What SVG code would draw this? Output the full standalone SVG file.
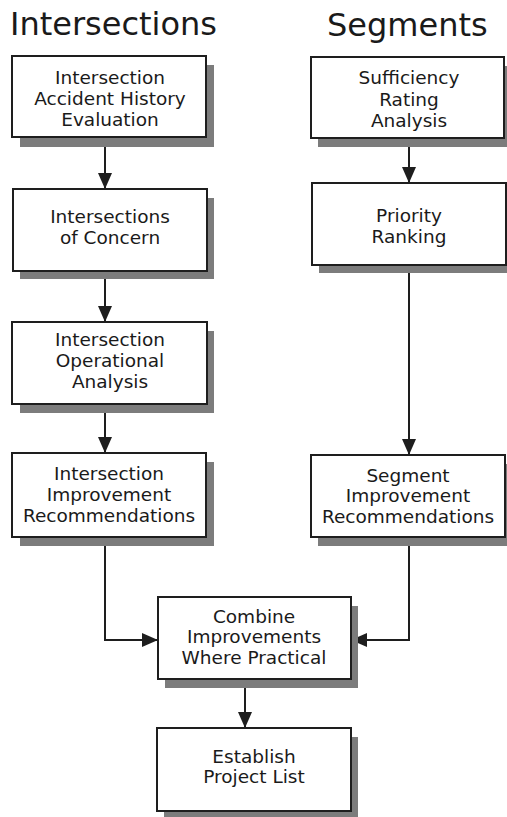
<svg xmlns="http://www.w3.org/2000/svg" width="507" height="817" viewBox="0 0 507 817">
  <style>
    .title { font-family: "DejaVu Sans", sans-serif; font-size: 32px; fill: #1a1a1a; }
    .label { font-family: "DejaVu Sans", sans-serif; font-size: 18.5px; fill: #1a1a1a; text-anchor: middle; }
    .box { fill: #ffffff; stroke: #1e1e1e; stroke-width: 2; }
    .shadow { fill: #7c7c7c; }
    .link { fill: none; stroke: #1e1e1e; stroke-width: 2; }
  </style>
  <defs>
    <marker id="arrow" markerUnits="userSpaceOnUse" markerWidth="16" markerHeight="14" refX="16" refY="7" orient="auto">
      <path d="M0,0 L16,7 L0,14 z" fill="#1e1e1e"/>
    </marker>
  </defs>

  <rect width="507" height="817" fill="#ffffff"/>

  <!-- column headings -->
  <text class="title" x="10" y="35">Intersections</text>
  <text class="title" x="327" y="36">Segments</text>

  <!-- connectors -->
  <g id="connectors">
    <line class="link" x1="105" y1="137" x2="105" y2="189" marker-end="url(#arrow)"/>
    <line class="link" x1="105" y1="271" x2="105" y2="322" marker-end="url(#arrow)"/>
    <line class="link" x1="105" y1="404" x2="105" y2="453" marker-end="url(#arrow)"/>
    <polyline class="link" points="105,537 105,640 158,640" marker-end="url(#arrow)"/>
    <line class="link" x1="409" y1="138" x2="409" y2="183" marker-end="url(#arrow)"/>
    <line class="link" x1="409" y1="265" x2="409" y2="455" marker-end="url(#arrow)"/>
    <polyline class="link" points="409,537 409,640 351,640" marker-end="url(#arrow)"/>
    <line class="link" x1="245" y1="679" x2="245" y2="728" marker-end="url(#arrow)"/>
  </g>

  <!-- intersection column -->
  <g id="accident-history">
    <rect class="shadow" x="20" y="65" width="194" height="82"/>
    <rect class="box" x="12" y="56" width="194" height="81"/>
    <text class="label" x="110" y="84">Intersection</text>
    <text class="label" x="110" y="105">Accident History</text>
    <text class="label" x="110" y="126">Evaluation</text>
  </g>

  <g id="intersections-of-concern">
    <rect class="shadow" x="20" y="198" width="194" height="81"/>
    <rect class="box" x="13" y="189" width="194" height="82"/>
    <text class="label" x="110" y="223">Intersections</text>
    <text class="label" x="110" y="244">of Concern</text>
  </g>

  <g id="operational-analysis">
    <rect class="shadow" x="20" y="331" width="194" height="82"/>
    <rect class="box" x="12" y="322" width="195" height="82"/>
    <text class="label" x="110" y="346">Intersection</text>
    <text class="label" x="110" y="367">Operational</text>
    <text class="label" x="110" y="388">Analysis</text>
  </g>

  <g id="intersection-improvements">
    <rect class="shadow" x="20" y="462" width="194" height="84"/>
    <rect class="box" x="12" y="453" width="194" height="84"/>
    <text class="label" x="109" y="480">Intersection</text>
    <text class="label" x="109" y="501">Improvement</text>
    <text class="label" x="109" y="522">Recommendations</text>
  </g>

  <!-- segment column -->
  <g id="sufficiency-rating">
    <rect class="shadow" x="318" y="66" width="194" height="81"/>
    <rect class="box" x="311" y="57" width="193" height="81"/>
    <text class="label" x="409" y="84">Sufficiency</text>
    <text class="label" x="409" y="106">Rating</text>
    <text class="label" x="409" y="127">Analysis</text>
  </g>

  <g id="priority-ranking">
    <rect class="shadow" x="319" y="192" width="194" height="81"/>
    <rect class="box" x="312" y="183" width="194" height="82"/>
    <text class="label" x="409" y="222">Priority</text>
    <text class="label" x="409" y="243">Ranking</text>
  </g>

  <g id="segment-improvements">
    <rect class="shadow" x="318" y="464" width="194" height="82"/>
    <rect class="box" x="311" y="455" width="194" height="82"/>
    <text class="label" x="408" y="482">Segment</text>
    <text class="label" x="408" y="502">Improvement</text>
    <text class="label" x="408" y="523">Recommendations</text>
  </g>

  <!-- merged outputs -->
  <g id="combine-improvements">
    <rect class="shadow" x="165" y="606" width="193" height="82"/>
    <rect class="box" x="158" y="597" width="193" height="82"/>
    <text class="label" x="254" y="623">Combine</text>
    <text class="label" x="254" y="643">Improvements</text>
    <text class="label" x="254" y="664">Where Practical</text>
  </g>

  <g id="project-list">
    <rect class="shadow" x="164" y="737" width="194" height="84"/>
    <rect class="box" x="157" y="728" width="194" height="83"/>
    <text class="label" x="254" y="763">Establish</text>
    <text class="label" x="254" y="783">Project List</text>
  </g>
</svg>
